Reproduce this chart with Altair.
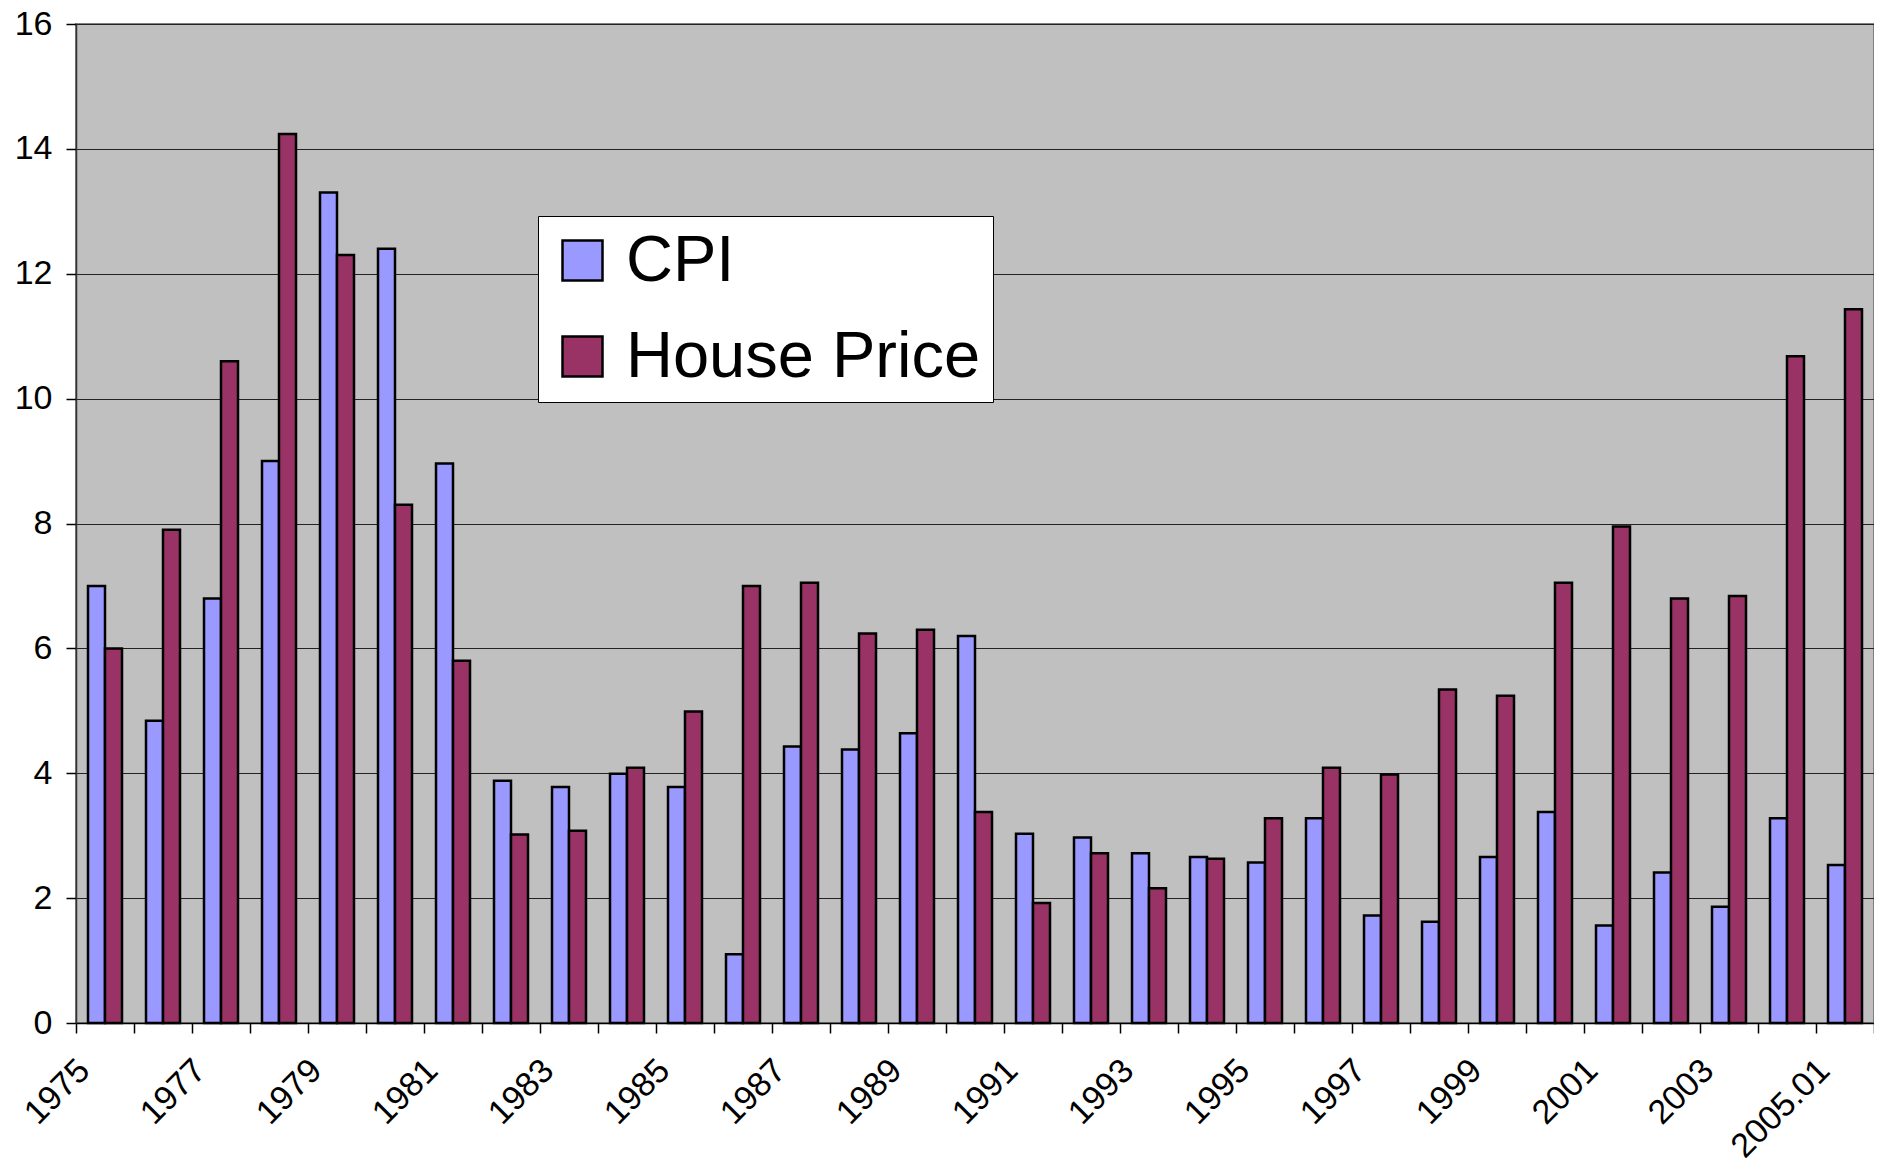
import altair as alt
import pandas as pd

categories = ["1975", "1976", "1977", "1978", "1979", "1980", "1981", "1982", "1983", "1984",
              "1985", "1986", "1987", "1988", "1989", "1990", "1991", "1992", "1993", "1994",
              "1995", "1996", "1997", "1998", "1999", "2000", "2001", "2002", "2003", "2004",
              "2005.01"]
cpi = [7.0, 4.84, 6.8, 9.0, 13.3, 12.4, 8.96, 3.88, 3.78, 3.99, 3.78, 1.1, 4.43, 4.38, 4.64,
       6.2, 3.03, 2.97, 2.72, 2.66, 2.57, 3.28, 1.72, 1.62, 2.66, 3.38, 1.56, 2.41, 1.86, 3.28, 2.53]
house_price = [6.0, 7.9, 10.6, 14.24, 12.3, 8.3, 5.8, 3.02, 3.08, 4.09, 4.99, 7.0, 7.05, 6.24,
               6.3, 3.38, 1.92, 2.72, 2.16, 2.63, 3.28, 4.09, 3.98, 5.34, 5.24, 7.05, 7.95, 6.8,
               6.84, 10.68, 11.43]
series = ["CPI", "House Price"]
colors = ["#9999FF", "#993366"]
y_ticks = [0, 2, 4, 6, 8, 10, 12, 14, 16]

rows = []
for c, a, b in zip(categories, cpi, house_price):
    rows.append({"year": c, "series": series[0], "value": a})
    rows.append({"year": c, "series": series[1], "value": b})
df = pd.DataFrame(rows)

shown = categories[::2]
label_expr = "indexof(" + str(shown).replace("'", '"') + ", datum.value) >= 0 ? datum.label : ''"

FONT = "Liberation Sans"

chart = alt.Chart(df).mark_bar(stroke="black", strokeWidth=2.5).encode(
    x=alt.X("year:N", sort=categories,
            scale=alt.Scale(paddingInner=0, paddingOuter=0),
            axis=alt.Axis(title=None, labelAngle=315, labelAlign="right", labelBaseline="middle",
                          labelExpr=label_expr, labelOffset=-21, labelPadding=32,
                          labelFontSize=34, labelFont=FONT, labelColor="black",
                          tickBand="extent", tickSize=10, tickColor="black", tickWidth=1.5,
                          domainColor="black", domainWidth=1.5, grid=False, labelOverlap=False)),
    xOffset=alt.XOffset("series:N", sort=series,
                        scale=alt.Scale(paddingInner=0, paddingOuter=0.706)),
    y=alt.Y("value:Q", scale=alt.Scale(domain=[0, 16], nice=False, zero=True),
            axis=alt.Axis(title=None, values=y_ticks, labelFontSize=34, labelFont=FONT,
                          labelColor="black", labelPadding=14, tickSize=10, tickColor="black",
                          tickWidth=1.5, domainColor="#333333", domainWidth=1.5,
                          grid=True, gridColor="#222222", gridWidth=1)),
    fill=alt.Fill("series:N", sort=series,
                  scale=alt.Scale(domain=series, range=colors),
                  legend=alt.Legend(title=None, orient="none", legendX=462, legendY=192,
                                    fillColor="white", strokeColor="black",
                                    padding=12, labelFontSize=65, labelFont=FONT,
                                    labelColor="black", labelOffset=11, symbolType="square",
                                    symbolSize=1600, symbolStrokeColor="black",
                                    symbolStrokeWidth=2.5, rowPadding=30, labelLimit=1000)),
).properties(
    width=1798, height=999,
    autosize=alt.AutoSizeParams(type="none"),
    padding={"left": 68, "top": 16, "right": 0, "bottom": 145},
).configure(
    background="white"
).configure_view(
    fill="#C0C0C0", stroke="#808080", strokeWidth=2
)

chart.save("out.html", embed_options={"renderer": "svg", "actions": False})
